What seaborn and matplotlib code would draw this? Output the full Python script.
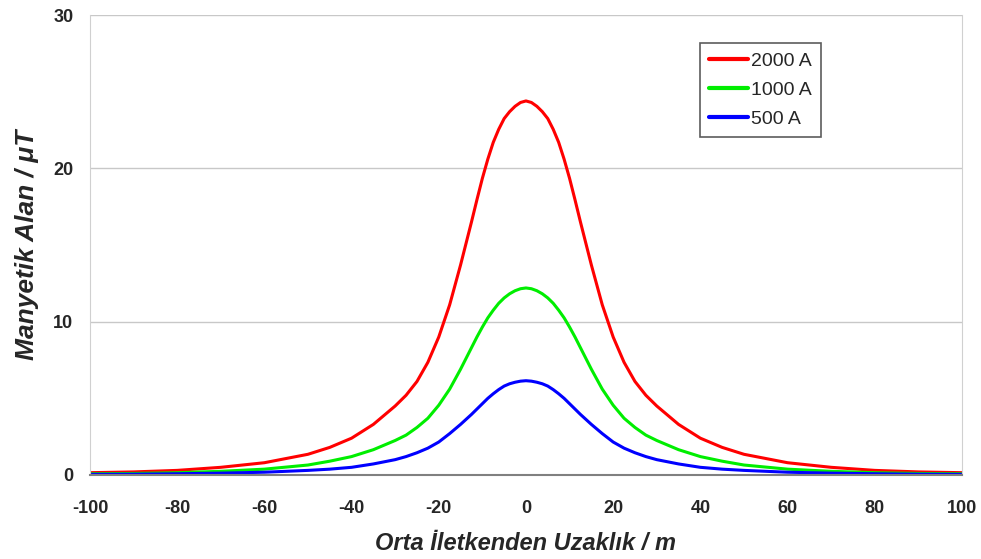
import matplotlib
matplotlib.use("Agg")
import matplotlib.pyplot as plt
import seaborn as sns
import pandas as pd

# distance from the middle conductor (m), one half; the curves are symmetric
half_x = [0, 1.25, 2.5, 3.75, 5, 6.25, 7.5, 8.75, 10, 11.25, 12.5, 15, 17.5,
          20, 22.5, 25, 27.5, 30, 35, 40, 45, 50, 60, 70, 80, 90, 100]

# magnetic field (uT)
red_2000 = [24.4, 24.3, 24.05, 23.7, 23.25, 22.55, 21.7, 20.6, 19.35, 17.95,
            16.5, 13.7, 11.1, 9.0, 7.35, 6.1, 5.2, 4.5, 3.3, 2.4, 1.8, 1.35,
            0.8, 0.5, 0.3, 0.2, 0.15]
green_1000 = [12.2, 12.15, 12.02, 11.82, 11.55, 11.2, 10.75, 10.25, 9.65,
              9.0, 8.3, 6.9, 5.6, 4.55, 3.7, 3.1, 2.6, 2.25, 1.65, 1.2, 0.9,
              0.65, 0.38, 0.24, 0.15, 0.1, 0.08]
blue_500 = [6.15, 6.12, 6.05, 5.95, 5.8, 5.57, 5.3, 5.0, 4.65, 4.3, 3.95,
            3.3, 2.7, 2.15, 1.75, 1.45, 1.2, 1.0, 0.72, 0.5, 0.38, 0.3,
            0.18, 0.12, 0.08, 0.05, 0.04]

series_names = ["2000 A", "1000 A", "500 A"]
series_colors = ["#ff0000", "#00ee00", "#0000ff"]


def mirror(xs, ys):
    x_full = [-x for x in xs[:0:-1]] + list(xs)
    y_full = list(ys[:0:-1]) + list(ys)
    return x_full, y_full


rows = []
for name, vals in zip(series_names, [red_2000, green_1000, blue_500]):
    xs, ys = mirror(half_x, vals)
    for x, y in zip(xs, ys):
        rows.append({"x": x, "B": y, "seri": name})
df = pd.DataFrame(rows)

sns.set_style("white")
plt.rcParams["font.family"] = ["Liberation Sans", "DejaVu Sans"]
plt.rcParams["axes.unicode_minus"] = False

fig = plt.figure(figsize=(9.81, 5.59), dpi=100)
ax = fig.add_axes([0.0917, 0.1503, 0.8889, 0.8227])

sns.lineplot(data=df, x="x", y="B", hue="seri", hue_order=series_names,
             palette=series_colors, linewidth=2.2, ax=ax, sort=True)

ax.set_xlim(-100, 100)
ax.set_ylim(0, 30)
ax.set_xticks(range(-100, 101, 20))
ax.set_yticks([0, 10, 20, 30])
ax.yaxis.grid(True, color="#c8c8c8", linewidth=1)
ax.xaxis.grid(False)
ax.set_axisbelow(True)

for side in ["left", "right", "top"]:
    ax.spines[side].set_color("#d0d0d0")
ax.spines["top"].set_visible(False)
ax.spines["bottom"].set_color("#808080")
ax.spines["bottom"].set_linewidth(1.5)

ax.tick_params(axis="both", which="major", direction="out", length=5,
               width=1, color="#808080", labelsize=13)
ax.tick_params(axis="x", pad=13)
ax.tick_params(axis="y", pad=7)
for lab in ax.get_xticklabels() + ax.get_yticklabels():
    lab.set_fontweight("bold")

ax.set_xlabel("Orta İletkenden Uzaklık / m", fontsize=17, fontweight="bold",
              fontstyle="italic", labelpad=11)
ax.set_ylabel("Manyetik Alan / μT", fontsize=19, fontweight="bold",
              fontstyle="italic", labelpad=10)

leg = ax.legend(loc="upper left", bbox_to_anchor=(0.6995, 0.939),
                fontsize=14, frameon=True, fancybox=False, handlelength=2.0,
                borderpad=0.45, labelspacing=0.6, handletextpad=0.2,
                borderaxespad=0)
leg.get_frame().set_edgecolor("#333333")
leg.get_frame().set_linewidth(1.2)
for line in leg.get_lines():
    line.set_linewidth(3)

fig.savefig("out.png", dpi=100)
plt.close(fig)
